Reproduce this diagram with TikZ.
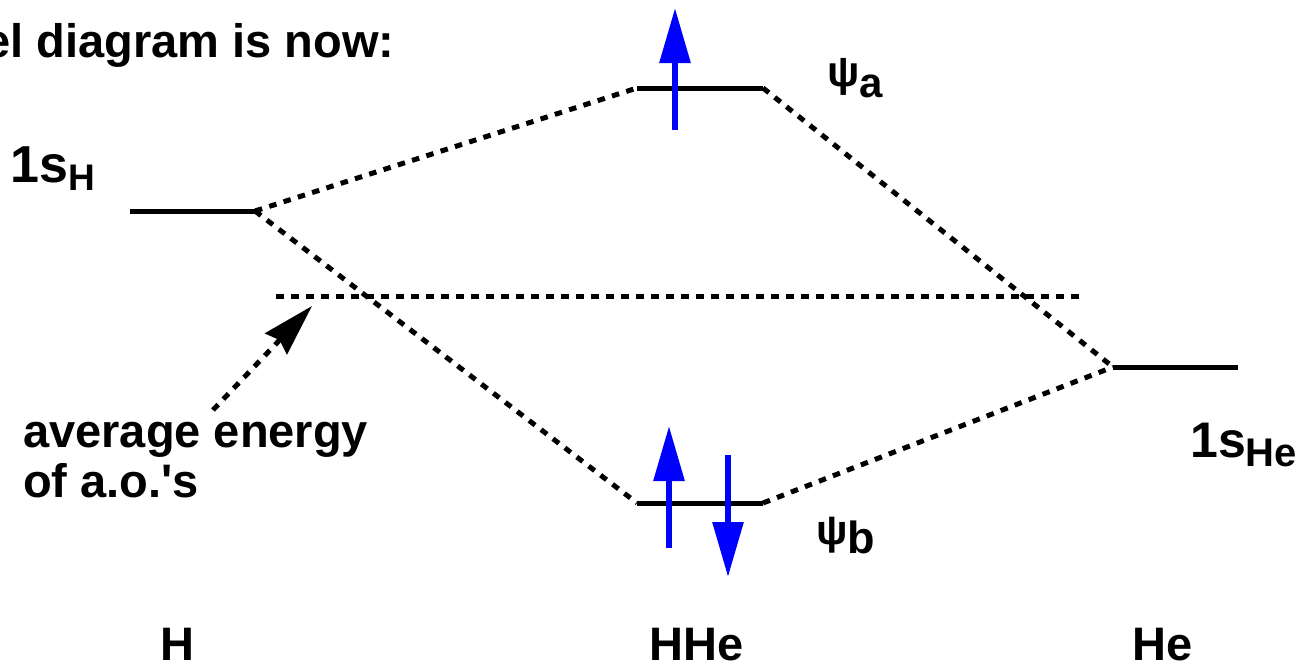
\documentclass[tikz,border=0pt]{standalone}
\usepackage{fontspec}
\setmainfont{Liberation Sans}[Ligatures=TeXOff]
\usetikzlibrary{arrows.meta}
\definecolor{eblue}{RGB}{0,0,255}
\tikzset{
  level/.style={line width=5pt, black},
  conn/.style={line width=5pt, black, dash pattern=on 7.5pt off 7.5pt},
  spin/.style={line width=6pt, eblue, -{Triangle[length=55pt,width=30pt]}},
  lbl/.style={inner sep=0pt, anchor=base west, font=\fontsize{47}{50}\selectfont\bfseries},
  clbl/.style={inner sep=0pt, anchor=base, font=\fontsize{47}{50}\selectfont\bfseries},
}
\newcommand{\mysub}[3]{\raisebox{-#1}{\fontsize{#2}{#2}\selectfont #3}}
\newcommand{\mypsi}[1]{\raisebox{\depth}{\resizebox*{!}{#1}{ψ}}}
\begin{document}
\begin{tikzpicture}[x=1pt,y=-1pt]
\useasboundingbox (0,0) rectangle (1303,664);
% level endpoints
\coordinate (Hl) at (130,211);
\coordinate (Hr) at (255,211);
\coordinate (al) at (637,88);
\coordinate (ar) at (763,88);
\coordinate (bl) at (637,503);
\coordinate (br) at (763,503);
\coordinate (Hel) at (1113,367);
\coordinate (Her) at (1238,367);
\coordinate (avl) at (276,296);
\coordinate (avr) at (1080,296);
% dotted connectors
\draw[conn] (Hr) -- (al);
\draw[conn] (Hr) -- (bl);
\draw[conn] (ar) -- (Hel);
\draw[conn] (br) -- (Hel);
\draw[conn] (avl) -- (avr);
% levels
\draw[level] (Hl) -- (Hr);
\draw[level] (al) -- (ar);
\draw[level] (bl) -- (br);
\draw[level] (Hel) -- (Her);
% electrons
\coordinate (e1s) at (675,130); \coordinate (e1e) at (675,8);
\coordinate (e2s) at (669,548); \coordinate (e2e) at (669,426);
\coordinate (e3s) at (728,455); \coordinate (e3e) at (728,577);
\draw[spin] (e1s) -- (e1e);
\draw[spin] (e2s) -- (e2e);
\draw[spin] (e3s) -- (e3e);
% labels
\node[lbl] (title) at (-16,57) {el diagram is now:};
\node[lbl, font=\fontsize{52}{52}\selectfont\bfseries] (sH) at (10,182) {1s\mysub{8pt}{37}{H}};
\node[lbl, font=\fontsize{50}{50}\selectfont\bfseries] (sHe) at (1190,457) {1s\mysub{9pt}{40}{He}};
\node[lbl] (psia) at (827,95) {\mypsi{37pt}\mysub{2pt}{42}{a}};
\node[lbl] (psib) at (816,553) {\mypsi{36pt}\mysub{0pt}{45}{b}};
\node[lbl, align=left] (avg) at (23,497) {average energy\\of a.o.'s};
\node[clbl] (labH) at (177,660) {H};
\node[clbl] (labHHe) at (697,660) {HHe};
\node[clbl] (labHe) at (1163,660) {He};
% pointer arrow
\coordinate (pa) at (213,410);
\coordinate (pb) at (312,306);
\draw[conn, -{Stealth[length=52pt,width=30pt,inset=5pt]}] (pa) -- (pb);
\end{tikzpicture}
\end{document}
